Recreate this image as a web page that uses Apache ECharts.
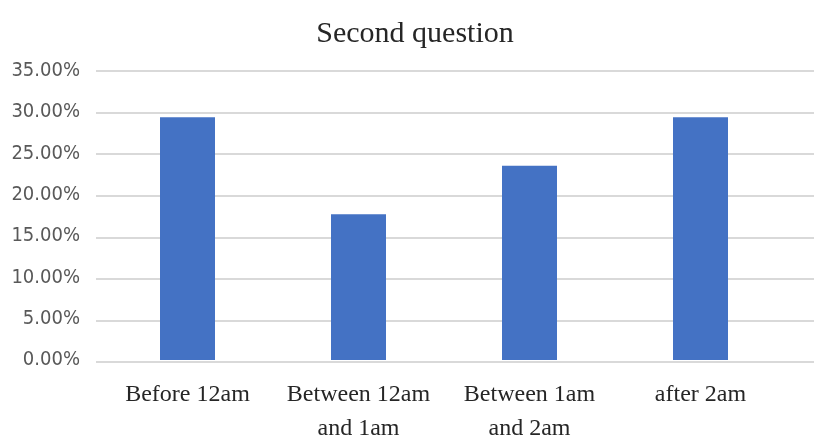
<!DOCTYPE html>
<html>
<head>
<meta charset="utf-8">
<script src="https://cdn.jsdelivr.net/npm/echarts@6/dist/echarts.min.js"></script>
<style>
  html, body { margin: 0; padding: 0; background: #fff; }
  #chart { width: 814px; height: 446px; }
</style>
</head>
<body>
<div id="chart"></div>
<script>
// Share of answers per time slot (17 respondents)
const categories = ['Before 12am', 'Between 12am\nand 1am', 'Between 1am\nand 2am', 'after 2am'];
const shares = [29.41, 17.65, 23.53, 29.41];
const yTicks = { min: 0, max: 35, interval: 5 };

const chart = echarts.init(document.getElementById('chart'));

const gridTop = 71;
const gridBottom = 84;

chart.setOption({
  animation: false,
  backgroundColor: '#ffffff',
  title: {
    text: 'Second question',
    left: 410,
    textAlign: 'center',
    top: 14,
    textStyle: {
      fontFamily: "'Liberation Serif', serif",
      fontWeight: 'normal',
      fontSize: 30,
      color: '#262626'
    }
  },
  grid: [
    { left: 102, right: 28, top: gridTop, bottom: gridBottom },
    // wider grid used only for the horizontal guide lines
    { left: 96, right: 0, top: gridTop, bottom: gridBottom }
  ],
  xAxis: [
    {
      type: 'category',
      gridIndex: 0,
      data: categories,
      axisLine: { show: false },
      axisTick: { show: false },
      axisLabel: {
        interval: 0,
        margin: 18,
        fontFamily: "'Liberation Serif', serif",
        fontSize: 24,
        lineHeight: 34,
        color: '#262626'
      }
    },
    { type: 'value', gridIndex: 1, show: false }
  ],
  yAxis: [
    {
      type: 'value',
      gridIndex: 0,
      min: yTicks.min,
      max: yTicks.max,
      interval: yTicks.interval,
      axisLine: { show: false },
      axisTick: { show: false },
      splitLine: { show: false },
      axisLabel: {
        margin: 22,
        fontFamily: "'DejaVu Sans Condensed', 'Liberation Sans', sans-serif",
        fontSize: 20,
        color: '#595959',
        formatter: v => v.toFixed(2) + '%'
      }
    },
    {
      type: 'value',
      gridIndex: 1,
      min: yTicks.min,
      max: yTicks.max,
      interval: yTicks.interval,
      axisLine: { show: false },
      axisTick: { show: false },
      axisLabel: { show: false },
      splitLine: { show: true, lineStyle: { color: '#d9d9d9', width: 2 } }
    }
  ],
  series: [
    {
      type: 'bar',
      xAxisIndex: 0,
      yAxisIndex: 0,
      data: shares,
      barWidth: 55,
      z: 3,
      itemStyle: { color: '#4472c4' }
    }
  ]
});
</script>
</body>
</html>
